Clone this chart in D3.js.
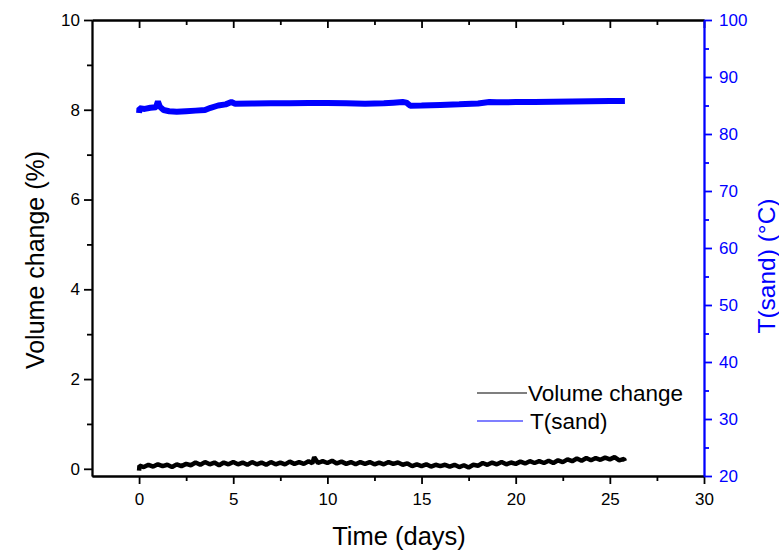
<!DOCTYPE html>
<html>
<head>
<meta charset="utf-8">
<script src="https://cdn.jsdelivr.net/npm/d3@7"></script>
<style>
  body { margin: 0; background: #fff; }
  svg { display: block; font-family: "Liberation Sans", Arial, sans-serif; }
</style>
</head>
<body>
<svg id="chart" width="779" height="550"></svg>
<script>
// volume change (%) vs time (days)
const volDays = [0, 0.02, 0.25, 0.5, 0.75, 1, 1.25, 1.5, 1.75, 2, 2.25, 2.5, 2.75, 3, 3.25, 3.5, 3.75,
  4, 4.25, 4.5, 4.75, 5, 5.25, 5.5, 5.75, 6, 6.25, 6.5, 6.75, 7, 7.25, 7.5, 7.75, 8, 8.25, 8.5, 8.75,
  9, 9.2, 9.3, 9.5, 9.75, 10, 10.25, 10.5, 10.75, 11, 11.25, 11.5, 11.75, 12, 12.25, 12.5, 12.75,
  13, 13.25, 13.5, 13.75, 14, 14.25, 14.5, 14.75, 15, 15.25, 15.5, 15.75, 16, 16.25, 16.5, 16.75,
  17, 17.25, 17.5, 17.75, 18, 18.25, 18.5, 18.75, 19, 19.25, 19.5, 19.75, 20, 20.25, 20.5, 20.75,
  21, 21.25, 21.5, 21.75, 22, 22.25, 22.5, 22.75, 23, 23.25, 23.5, 23.75, 24, 24.25, 24.5, 24.75,
  25, 25.25, 25.5, 25.75, 25.8];
const volValues = [-0.04, 0.07, 0.04, 0.09, 0.05, 0.10, 0.06, 0.09, 0.04, 0.10, 0.06, 0.11, 0.08, 0.14, 0.09, 0.15, 0.10,
  0.14, 0.08, 0.14, 0.10, 0.15, 0.10, 0.14, 0.09, 0.15, 0.10, 0.14, 0.09, 0.15, 0.10, 0.14, 0.10, 0.16, 0.11, 0.15, 0.11,
  0.17, 0.12, 0.26, 0.13, 0.17, 0.13, 0.18, 0.12, 0.16, 0.11, 0.15, 0.10, 0.15, 0.11, 0.15, 0.10, 0.14,
  0.10, 0.15, 0.11, 0.14, 0.09, 0.12, 0.06, 0.10, 0.06, 0.10, 0.05, 0.09, 0.06, 0.09, 0.05, 0.09,
  0.04, 0.08, 0.03, 0.09, 0.07, 0.13, 0.09, 0.14, 0.10, 0.15, 0.10, 0.14, 0.11, 0.16, 0.12, 0.17,
  0.13, 0.17, 0.13, 0.18, 0.13, 0.19, 0.15, 0.21, 0.17, 0.23, 0.18, 0.24, 0.19, 0.24, 0.20, 0.25,
  0.21, 0.26, 0.19, 0.22, 0.17];

// sand temperature (°C) vs time (days)
const tempDays = [0, 0.02, 0.3, 0.6, 0.9, 1.0, 1.1, 1.3, 1.6, 2.0, 2.5, 3.0, 3.5, 3.8, 4.2, 4.6, 4.9, 5.1,
  6, 7, 8, 9, 10, 11, 12, 13, 13.5, 14.0, 14.2, 14.4, 15, 16, 17, 18, 18.6, 19, 20, 21, 22, 23, 24, 25, 25.8];
const tempValues = [83.7, 84.5, 84.4, 84.6, 84.7, 85.7, 84.8, 84.2, 84.0, 83.9, 84.0, 84.1, 84.2, 84.6, 85.0, 85.2, 85.6, 85.3,
  85.35, 85.4, 85.4, 85.45, 85.45, 85.4, 85.3, 85.4, 85.5, 85.6, 85.5, 84.95, 85.0, 85.1, 85.2, 85.35, 85.6, 85.55, 85.6, 85.6,
  85.65, 85.7, 85.75, 85.8, 85.8];

const xMajor = [0, 5, 10, 15, 20, 25, 30];
const xMinor = [2.5, 7.5, 12.5, 17.5, 22.5, 27.5];
const yMajor = [0, 2, 4, 6, 8, 10];
const yMinor = [1, 3, 5, 7, 9];
const y2Major = [20, 30, 40, 50, 60, 70, 80, 90, 100];
const y2Minor = [25, 35, 45, 55, 65, 75, 85, 95];

const legendItems = [
  { name: "Volume change", color: "#000" },
  { name: "T(sand)", color: "#0000ff" }
];

const svg = d3.select("#chart");
const plotLeft = 92, plotRight = 704, plotTop = 20, plotBottom = 476;

const x = d3.scaleLinear().domain([-2.5, 30]).range([plotLeft, plotRight]);
const y = d3.scaleLinear().domain([-0.16, 10]).range([plotBottom, plotTop]);
const y2 = d3.scaleLinear().domain([20, 100]).range([plotBottom, plotTop]);

const blue = "#0000ff";

// data lines first, axes on top
svg.append("clipPath").attr("id", "clip")
  .append("rect").attr("x", plotLeft).attr("y", plotTop)
  .attr("width", plotRight - plotLeft).attr("height", plotBottom - plotTop);

const plot = svg.append("g").attr("clip-path", "url(#clip)");

const volLine = d3.line().x((d, i) => x(volDays[i])).y(d => y(d));
plot.append("path")
  .attr("d", volLine(volValues))
  .attr("fill", "none")
  .attr("stroke", "#000")
  .attr("stroke-width", 4.5)
  .attr("stroke-linejoin", "bevel");

const tempLine = d3.line().x((d, i) => x(tempDays[i])).y(d => y2(d));
plot.append("path")
  .attr("d", tempLine(tempValues))
  .attr("fill", "none")
  .attr("stroke", blue)
  .attr("stroke-width", 6)
  .attr("stroke-linejoin", "bevel");

function styleAxis(g, color) {
  g.selectAll("path.domain").attr("stroke", color).attr("stroke-width", 1.8);
  g.selectAll(".tick line").attr("stroke", color).attr("stroke-width", 1.8);
  g.selectAll(".tick text").attr("fill", color).attr("font-size", 17)
    .attr("font-family", "Liberation Sans, Arial, sans-serif");
}

// bottom axis
const gx = svg.append("g").attr("transform", `translate(0,${plotBottom})`)
  .call(d3.axisBottom(x).tickValues(xMajor).tickSize(8).tickPadding(9).tickSizeOuter(0));
styleAxis(gx, "#000");
const gxm = svg.append("g").attr("transform", `translate(0,${plotBottom})`)
  .call(d3.axisBottom(x).tickValues(xMinor).tickSize(5).tickFormat("").tickSizeOuter(0));
styleAxis(gxm, "#000");

// top axis, ticks pointing inwards
const gt = svg.append("g").attr("transform", `translate(0,${plotTop})`)
  .call(d3.axisTop(x).tickValues(xMajor).tickSize(-8).tickFormat("").tickSizeOuter(0));
styleAxis(gt, "#000");
const gtm = svg.append("g").attr("transform", `translate(0,${plotTop})`)
  .call(d3.axisTop(x).tickValues(xMinor).tickSize(-5).tickFormat("").tickSizeOuter(0));
styleAxis(gtm, "#000");

// left axis
const gy = svg.append("g").attr("transform", `translate(${plotLeft},0)`)
  .call(d3.axisLeft(y).tickValues(yMajor).tickSize(8).tickPadding(4).tickSizeOuter(0));
styleAxis(gy, "#000");
const gym = svg.append("g").attr("transform", `translate(${plotLeft},0)`)
  .call(d3.axisLeft(y).tickValues(yMinor).tickSize(5).tickFormat("").tickSizeOuter(0));
styleAxis(gym, "#000");

// right axis
const gy2 = svg.append("g").attr("transform", `translate(${plotRight},0)`)
  .call(d3.axisRight(y2).tickValues(y2Major).tickSize(8).tickPadding(7).tickSizeOuter(0));
styleAxis(gy2, blue);
const gy2m = svg.append("g").attr("transform", `translate(${plotRight},0)`)
  .call(d3.axisRight(y2).tickValues(y2Minor).tickSize(5).tickFormat("").tickSizeOuter(0));
styleAxis(gy2m, blue);

// axis titles
svg.append("text")
  .attr("x", (plotLeft + plotRight) / 2 + 1).attr("y", 545)
  .attr("text-anchor", "middle").attr("font-size", 25.5)
  .text("Time (days)");

svg.append("text")
  .attr("transform", "translate(44,260) rotate(-90)")
  .attr("text-anchor", "middle").attr("font-size", 25)
  .text("Volume change (%)");

svg.append("text")
  .attr("transform", "translate(775,266) rotate(-90)")
  .attr("text-anchor", "middle").attr("font-size", 24.5)
  .attr("fill", blue)
  .text("T(sand) (°C)");

// legend
const legend = svg.append("g")
  .selectAll("g")
  .data(legendItems)
  .join("g")
  .attr("transform", (d, i) => `translate(477,${393 + i * 28})`);
legend.append("line")
  .attr("x1", 0).attr("x2", (d, i) => i === 0 ? 50 : 46)
  .attr("stroke", d => d.color).attr("stroke-width", 1.2);
legend.append("text")
  .attr("x", (d, i) => i === 0 ? 51 : 53)
  .attr("y", 8)
  .attr("font-size", 22.5)
  .text(d => d.name);
</script>
</body>
</html>
